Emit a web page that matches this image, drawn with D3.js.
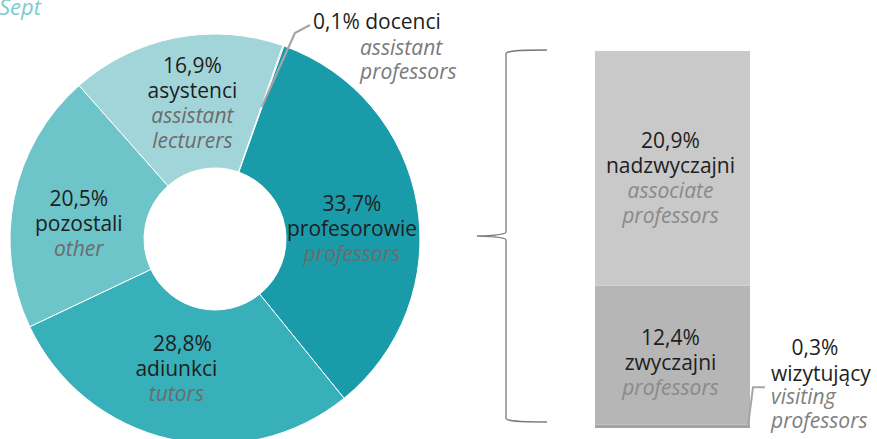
<!DOCTYPE html>
<html>
<head>
<meta charset="utf-8">
<script src="https://cdn.jsdelivr.net/npm/d3@7"></script>
<style>
  body { margin: 0; background: #fff; }
  svg { display: block; font-family: "Open Sans", sans-serif; }
</style>
</head>
<body>
<svg id="chart" width="877" height="439"></svg>
<script>
// donut: staff groups (share of all academic staff, %)
const groups = ["docenci", "profesorowie", "adiunkci", "pozostali", "asystenci"];
const groupsEn = [["assistant", "professors"], ["professors"], ["tutors"], ["other"], ["assistant", "lecturers"]];
const shares = [0.1, 33.7, 28.8, 20.5, 16.9];
const shareLabels = ["0,1%", "33,7%", "28,8%", "20,5%", "16,9%"];

// bar: breakdown of professors, bottom to top
const profTypes = ["wizytujący", "zwyczajni", "nadzwyczajni"];
const profTypesEn = [["visiting", "professors"], ["professors"], ["associate", "professors"]];
const profShares = [0.3, 12.4, 20.9];
const profLabels = ["0,3%", "12,4%", "20,9%"];

const svg = d3.select("#chart");
const cx = 215, cy = 239, rOut = 205, rIn = 71;

const colors = {
  docenci: "#1a9ba9", profesorowie: "#1a9ba9", adiunkci: "#38b0ba",
  pozostali: "#6dc4c9", asystenci: "#a2d5da"
};

// "Sept" fragment top-left
svg.append("text").attr("x", -1).attr("y", 15)
  .attr("font-size", 22).attr("font-style", "italic").attr("fill", "#7ccbd0")
  .text("Sept");

const pieData = groups.map((g, i) => ({ name: g, value: shares[i], i }));
const startA = 19.3 * Math.PI / 180;
const arcs = d3.pie().sort(null).value(d => d.value)
  .startAngle(startA).endAngle(startA + 2 * Math.PI)(pieData);

const arc = d3.arc().innerRadius(rIn).outerRadius(rOut);
const labelArc = d3.arc().innerRadius(138).outerRadius(138);

const donut = svg.append("g").attr("transform", `translate(${cx},${cy})`);
donut.selectAll("path").data(arcs).enter().append("path")
  .attr("d", arc)
  .attr("fill", d => colors[d.data.name])
  .attr("stroke", "#fff").attr("stroke-width", 1);

// in-slice labels
const nudge = {
  profesorowie: [1, 13], adiunkci: [-8, -5], pozostali: [-1, 13], asystenci: [4, 0]
};
const fs = 21, lh = 25;
arcs.filter(d => d.data.name !== "docenci").forEach(d => {
  const [x, y] = labelArc.centroid(d);
  const nd = nudge[d.data.name];
  const en = groupsEn[d.data.i];
  const lines = [
    { t: shareLabels[d.data.i], c: "#1e1e1e", it: false },
    { t: d.data.name, c: "#1e1e1e", it: false }
  ].concat(en.map(t => ({ t, c: "#6c6c6c", it: true })));
  const top = y + nd[1] - (lines.length - 1) * lh / 2 + 7;
  const g = donut.append("g");
  lines.forEach((l, k) => {
    g.append("text")
      .attr("x", x + nd[0] + (k === 0 && d.data.name === "adiunkci" ? 6 : 0))
      .attr("y", top + k * lh)
      .attr("text-anchor", "middle")
      .attr("font-size", fs)
      .attr("font-style", l.it ? "italic" : "normal")
      .attr("fill", l.c)
      .text(l.t);
  });
});

// docenci callout
const doc = arcs[0];
const mid = (doc.startAngle + doc.endAngle) / 2;
const p0 = [Math.sin(mid) * 140, -Math.cos(mid) * 140];
const p1 = [Math.sin(mid + 0.03) * 221, -Math.cos(mid + 0.03) * 221];
const p2 = [p1[0] + 15, p1[1] - 8];
donut.append("path")
  .attr("d", d3.line()([p0, p1, p2]))
  .attr("fill", "none").attr("stroke", "#a6a6a6").attr("stroke-width", 2.2);
svg.append("text").attr("x", 313).attr("y", 29)
  .attr("font-size", fs).attr("fill", "#1e1e1e")
  .text(shareLabels[0] + " " + groups[0]);
groupsEn[0].forEach((t, k) => {
  svg.append("text").attr("x", 360).attr("y", 55 + k * 24)
    .attr("font-size", fs).attr("font-style", "italic").attr("fill", "#7a7a7a")
    .text(t);
});

// stacked bar
const total = d3.sum(profShares);
const xb = d3.scaleBand().domain(["profesorowie"]).range([595, 750]).padding(0);
const yb = d3.scaleLinear().domain([0, total]).range([428, 51]);
const barColors = ["#a3a4a4", "#b5b6b5", "#c8c9c8"];
const stacked = d3.stack().keys(profTypes)([
  Object.fromEntries(profTypes.map((k, i) => [k, profShares[i]]))
]);

svg.append("g").selectAll("rect").data(stacked).enter().append("rect")
  .attr("x", xb("profesorowie"))
  .attr("width", xb.bandwidth())
  .attr("y", d => yb(d[0][1]))
  .attr("height", d => yb(d[0][0]) - yb(d[0][1]))
  .attr("fill", (d, i) => barColors[i]);

const bx = xb("profesorowie") + xb.bandwidth() / 2;
const barNudge = [0, 8, 10];
[1, 2].forEach(i => {
  const s = stacked[i][0];
  const midY = (yb(s[0]) + yb(s[1])) / 2 + barNudge[i];
  const lines = [
    { t: profLabels[i], c: "#1e1e1e", it: false },
    { t: profTypes[i], c: "#1e1e1e", it: false }
  ].concat(profTypesEn[i].map(t => ({ t, c: "#8a8a8a", it: true })));
  const top = midY - (lines.length - 1) * lh / 2 + 7;
  lines.forEach((l, k) => {
    svg.append("text")
      .attr("x", bx - 2).attr("y", top + k * lh)
      .attr("text-anchor", "middle")
      .attr("font-size", fs)
      .attr("font-style", l.it ? "italic" : "normal")
      .attr("fill", l.c)
      .text(l.t);
  });
});

// wizytujący callout
const wx = xb("profesorowie") + xb.bandwidth() - 2;
const wy = yb(profShares[0] / 2);
svg.append("path")
  .attr("d", d3.line()([[wx, wy], [wx + 5, wy - 39], [wx + 17, wy - 39]]))
  .attr("fill", "none").attr("stroke", "#a6a6a6").attr("stroke-width", 2);
svg.append("text").attr("x", 815).attr("y", 355).attr("text-anchor", "middle")
  .attr("font-size", fs).attr("fill", "#1e1e1e").text(profLabels[0]);
svg.append("text").attr("x", 771).attr("y", 381)
  .attr("font-size", fs).attr("fill", "#1e1e1e").text(profTypes[0]);
profTypesEn[0].forEach((t, k) => {
  svg.append("text").attr("x", 771).attr("y", 404 + k * 24)
    .attr("font-size", fs).attr("font-style", "italic").attr("fill", "#808080")
    .text(t);
});

// bracket linking professors slice to the bar
const bTop = yb(total) - 1, bBot = yb(0) - 6, bMid = (bTop + bBot) / 2;
const vx = 506, ex = 547, tip = 477;
const bracket = `M${ex},${bTop} C${vx + 8},${bTop} ${vx},${bTop + 1} ${vx},${bTop + 4}
  L${vx},${bMid - 4} C${vx},${bMid - 1} ${tip + 8},${bMid} ${tip},${bMid}
  C${tip + 8},${bMid} ${vx},${bMid + 1} ${vx},${bMid + 4}
  L${vx},${bBot - 4} C${vx},${bBot - 1} ${vx + 8},${bBot} ${ex},${bBot}`;
svg.append("path").attr("d", bracket)
  .attr("fill", "none").attr("stroke", "#7a7a7a").attr("stroke-width", 1.3);
</script>
</body>
</html>
